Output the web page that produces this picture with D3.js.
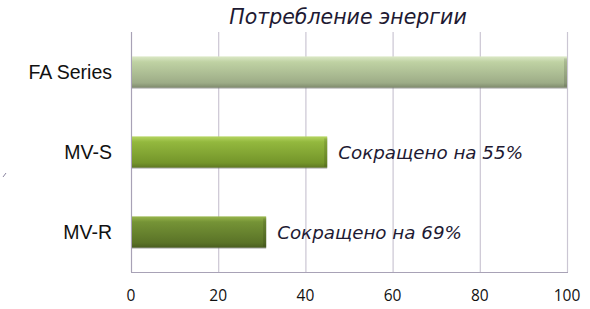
<!DOCTYPE html>
<html>
<head>
<meta charset="utf-8">
<script src="https://cdn.jsdelivr.net/npm/d3@7"></script>
<style>
body{margin:0;background:#fff;}
svg{display:block;}
</style>
</head>
<body>
<svg id="chart" width="590" height="309"></svg>
<script>
// data
var categories = ['FA Series', 'MV-S', 'MV-R'];
var values = [100, 45, 31];
var notes = ['', 'Сокращено на 55%', 'Сокращено на 69%'];
var ticks = [0, 20, 40, 60, 80, 100];
var title = 'Потребление энергии';

// bar colours: top, middle, bottom
var colours = [
	['#dbe8c6', '#bfd2a3', '#9dac87'],
	['#b5d561', '#93b83e', '#74952a'],
	['#98b64c', '#759336', '#5a7327']
];

var svg = d3.select('#chart');
var margin = {left:131, right:23, top:32, bottom:37};
var width = 590 - margin.left - margin.right;
var height = 309 - margin.top - margin.bottom;

var x = d3.scaleLinear().domain([0,100]).range([0,width]);
var y = d3.scaleBand().domain(categories).range([0,height]).paddingInner(0.61).paddingOuter(0.305);

var defs = svg.append('defs');
colours.forEach(function(c,i){
	var g = defs.append('linearGradient').attr('id','grad_'+i)
		.attr('x1',0).attr('y1',0).attr('x2',0).attr('y2',1);
	g.append('stop').attr('offset','0%').attr('stop-color',c[0]);
	g.append('stop').attr('offset','18%').attr('stop-color',c[1]);
	g.append('stop').attr('offset','85%').attr('stop-color',c[2]);
	g.append('stop').attr('offset','100%').attr('stop-color',d3.color(c[2]).darker(0.6));
});

var g = svg.append('g').attr('transform','translate('+margin.left+','+margin.top+')');

// vertical gridlines
g.selectAll('.grid').data(ticks.slice(1)).enter().append('line')
	.attr('class','grid')
	.attr('x1',function(d){return x(d)+0.5;}).attr('x2',function(d){return x(d)+0.5;})
	.attr('y1',0).attr('y2',height)
	.attr('stroke','#cbc6d3').attr('stroke-width',1.2);

// axes lines
g.append('line').attr('x1',0.5).attr('x2',0.5).attr('y1',0).attr('y2',height)
	.attr('stroke','#a8a2b6').attr('stroke-width',1.2);
g.append('line').attr('x1',0).attr('x2',width+1).attr('y1',height+0.5).attr('y2',height+0.5)
	.attr('stroke','#a8a2b6').attr('stroke-width',1.2);

// bars
var bars = g.selectAll('.bar').data(categories).enter().append('g').attr('class','bar');
bars.append('rect')
	.attr('x',1)
	.attr('y',function(d){return y(d)+1;})
	.attr('width',function(d,i){return x(values[i])-1;})
	.attr('height',y.bandwidth())
	.attr('fill','#6b6b6b').attr('opacity',0.55);
bars.append('rect')
	.attr('x',1)
	.attr('y',function(d){return y(d);})
	.attr('width',function(d,i){return x(values[i])-1;})
	.attr('height',y.bandwidth())
	.attr('fill',function(d,i){return 'url(#grad_'+i+')';});
// bevel right edge
bars.append('rect')
	.attr('x',function(d,i){return x(values[i])-3;})
	.attr('y',function(d){return y(d)+2;})
	.attr('width',3)
	.attr('height',y.bandwidth()-3)
	.attr('fill','#000').attr('opacity',0.12);

// category labels
svg.selectAll('.cat').data(categories).enter().append('text')
	.attr('class','cat')
	.attr('x',112)
	.attr('y',function(d){return margin.top+y(d)+y.bandwidth()/2;})
	.attr('dy','0.36em')
	.attr('text-anchor','end')
	.attr('font-family','Liberation Sans, Arial, sans-serif')
	.attr('font-size',19.5)
	.attr('fill','#111')
	.text(function(d){return d;});

// tick labels
g.selectAll('.tick').data(ticks).enter().append('text')
	.attr('class','tick')
	.attr('x',function(d){return x(d);})
	.attr('y',height+29)
	.attr('text-anchor','middle')
	.attr('font-family','Open Sans, sans-serif')
	.attr('font-size',15.5)
	.attr('fill','#111')
	.text(function(d){return d;});

// notes
g.selectAll('.note').data(categories).enter().append('text')
	.attr('class','note')
	.attr('x',function(d,i){return x(values[i])+11;})
	.attr('y',function(d){return y(d)+y.bandwidth()/2;})
	.attr('dy','0.36em')
	.attr('font-family','DejaVu Sans, Verdana, sans-serif')
	.attr('font-style','italic')
	.attr('font-size',18.3)
	.attr('fill','#1e1a33')
	.text(function(d,i){return notes[i];});

// title
svg.append('text')
	.attr('x',348).attr('y',24)
	.attr('text-anchor','middle')
	.attr('font-family','DejaVu Sans, Verdana, sans-serif')
	.attr('font-style','italic')
	.attr('font-size',20.5)
	.attr('fill','#1e1a33')
	.text(title);

// small stray mark at left
svg.append('line').attr('x1',3).attr('y1',177).attr('x2',6).attr('y2',173)
	.attr('stroke','#8a84a0').attr('stroke-width',1);
</script>
</body>
</html>
